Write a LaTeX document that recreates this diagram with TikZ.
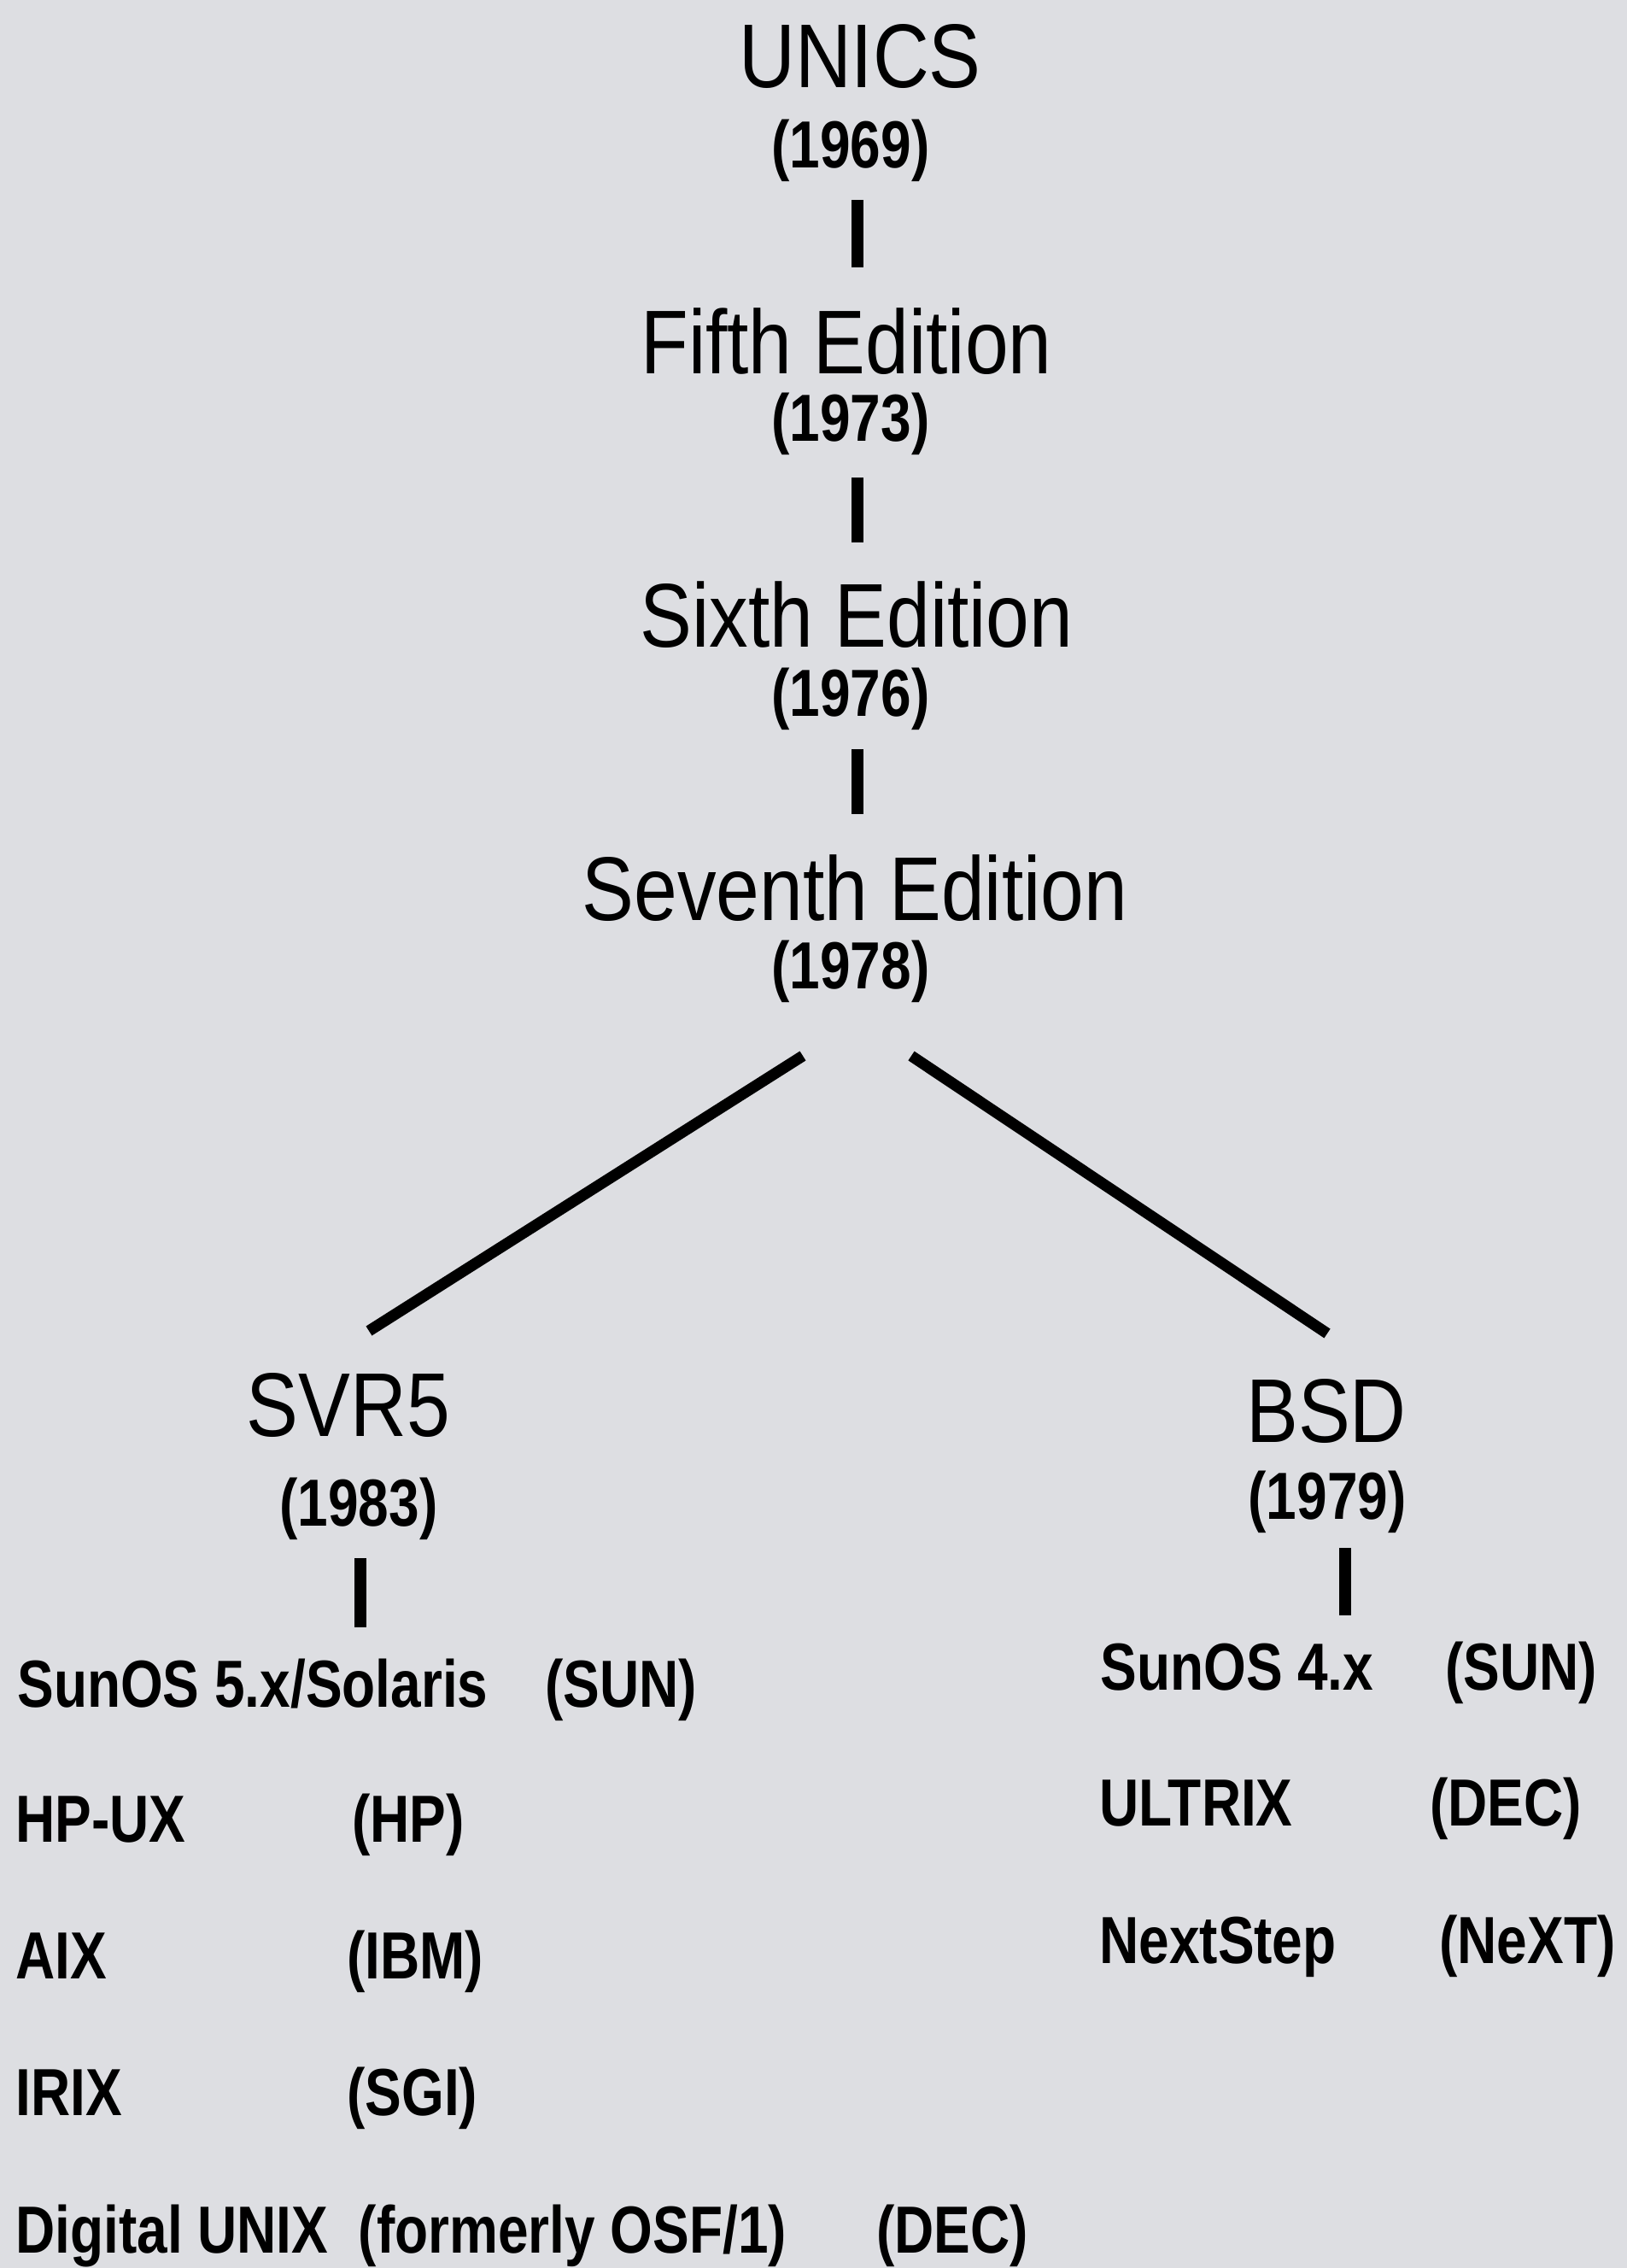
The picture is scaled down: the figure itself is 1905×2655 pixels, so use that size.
\documentclass[tikz,border=0pt]{standalone}
\usepackage{fontspec}
\setmainfont{Liberation Sans}[FakeStretch=0.82]
\newfontfamily\titlefont{Liberation Sans}[FakeStretch=0.86]
\usetikzlibrary{calc}

\definecolor{paper}{RGB}{221,222,226}

\tikzset{
  title/.style = {font=\titlefont\fontsize{53}{60}\selectfont, inner sep=0pt, anchor=base},
  year/.style  = {font=\bfseries\fontsize{39}{44}\selectfont, inner sep=0pt, anchor=base},
  item/.style  = {font=\bfseries\fontsize{39}{44}\selectfont, inner sep=0pt, anchor=base west},
  stem/.style  = {line width=7pt},
  branch/.style = {line width=6.5pt}
}

\begin{document}
\begin{tikzpicture}%
        [x=0.5pt, y=-0.5pt]
        \fill[paper] (0,0) rectangle (1905,2655);
        \useasboundingbox (0,0) rectangle (1905,2655);

        % main line
        \node[title] (unics)   at (1007,102)  {UNICS};
        \node[year]  (y1969)   at (996,196)   {(1969)};
        \node[title] (fifth)   at (991,437)   {Fifth Edition};
        \node[year]  (y1973)   at (996,516)   {(1973)};
        \node[title] (sixth)   at (1003,757)  {Sixth Edition};
        \node[year]  (y1976)   at (996,838)   {(1976)};
        \node[title] (seventh) at (1001,1077) {Seventh Edition};
        \node[year]  (y1978)   at (996,1157)  {(1978)};

        \draw[stem] ($(y1969.base)+(8,38)$) -- ($(fifth.base)+(13,-124)$);
        \draw[stem] ($(y1973.base)+(8,43)$) -- ($(sixth.base)+(1,-122)$);
        \draw[stem] ($(y1976.base)+(8,39)$) -- ($(seventh.base)+(3,-124)$);

        % the two branches
        \node[title] (svr)   at (408,1681)  {SVR5};
        \node[year]  (y1983) at (420,1786)  {(1983)};
        \node[title] (bsd)   at (1553,1688) {BSD};
        \node[year]  (y1979) at (1554,1778) {(1979)};

        \draw[branch] ($(y1978.base)+(-56,79)$) -- ($(svr.base)+(24,-123)$);
        \draw[branch] ($(y1978.base)+(71,79)$) -- ($(bsd.base)+(1,-127)$);

        % System V descendants
        \node[item] (sol)    at (20,1998)   {SunOS 5.x/Solaris};
        \node[item] (solco)  at (638,1998)  {(SUN)};
        \node[item] (hpux)   at (18,2156)   {HP-UX};
        \node[item] (hpco)   at (412,2156)  {(HP)};
        \node[item] (aix)    at (18,2316)   {AIX};
        \node[item] (aixco)  at (406,2316)  {(IBM)};
        \node[item] (irix)   at (18,2476)   {IRIX};
        \node[item] (irixco) at (406,2476)  {(SGI)};
        \node[item] (dux)    at (18,2637)   {Digital UNIX\ \ (formerly OSF/1)};
        \node[item] (duxco)  at (1026,2637) {(DEC)};

        \draw[stem] ($(y1983.base)+(2,38)$) -- ($(sol.base west)+(402,-93)$);

        % BSD descendants
        \node[item] (sun4)     at (1288,1978) {SunOS 4.x};
        \node[item] (sun4co)   at (1692,1978) {(SUN)};
        \node[item] (ultrix)   at (1287,2137) {ULTRIX};
        \node[item] (ultrixco) at (1674,2137) {(DEC)};
        \node[item] (next)     at (1287,2298) {NextStep};
        \node[item] (nextco)   at (1685,2298) {(NeXT)};

        \draw[stem] ($(y1979.base)+(21,34)$) -- ($(sun4.base west)+(287,-87)$);
    \end{tikzpicture}
\end{document}
